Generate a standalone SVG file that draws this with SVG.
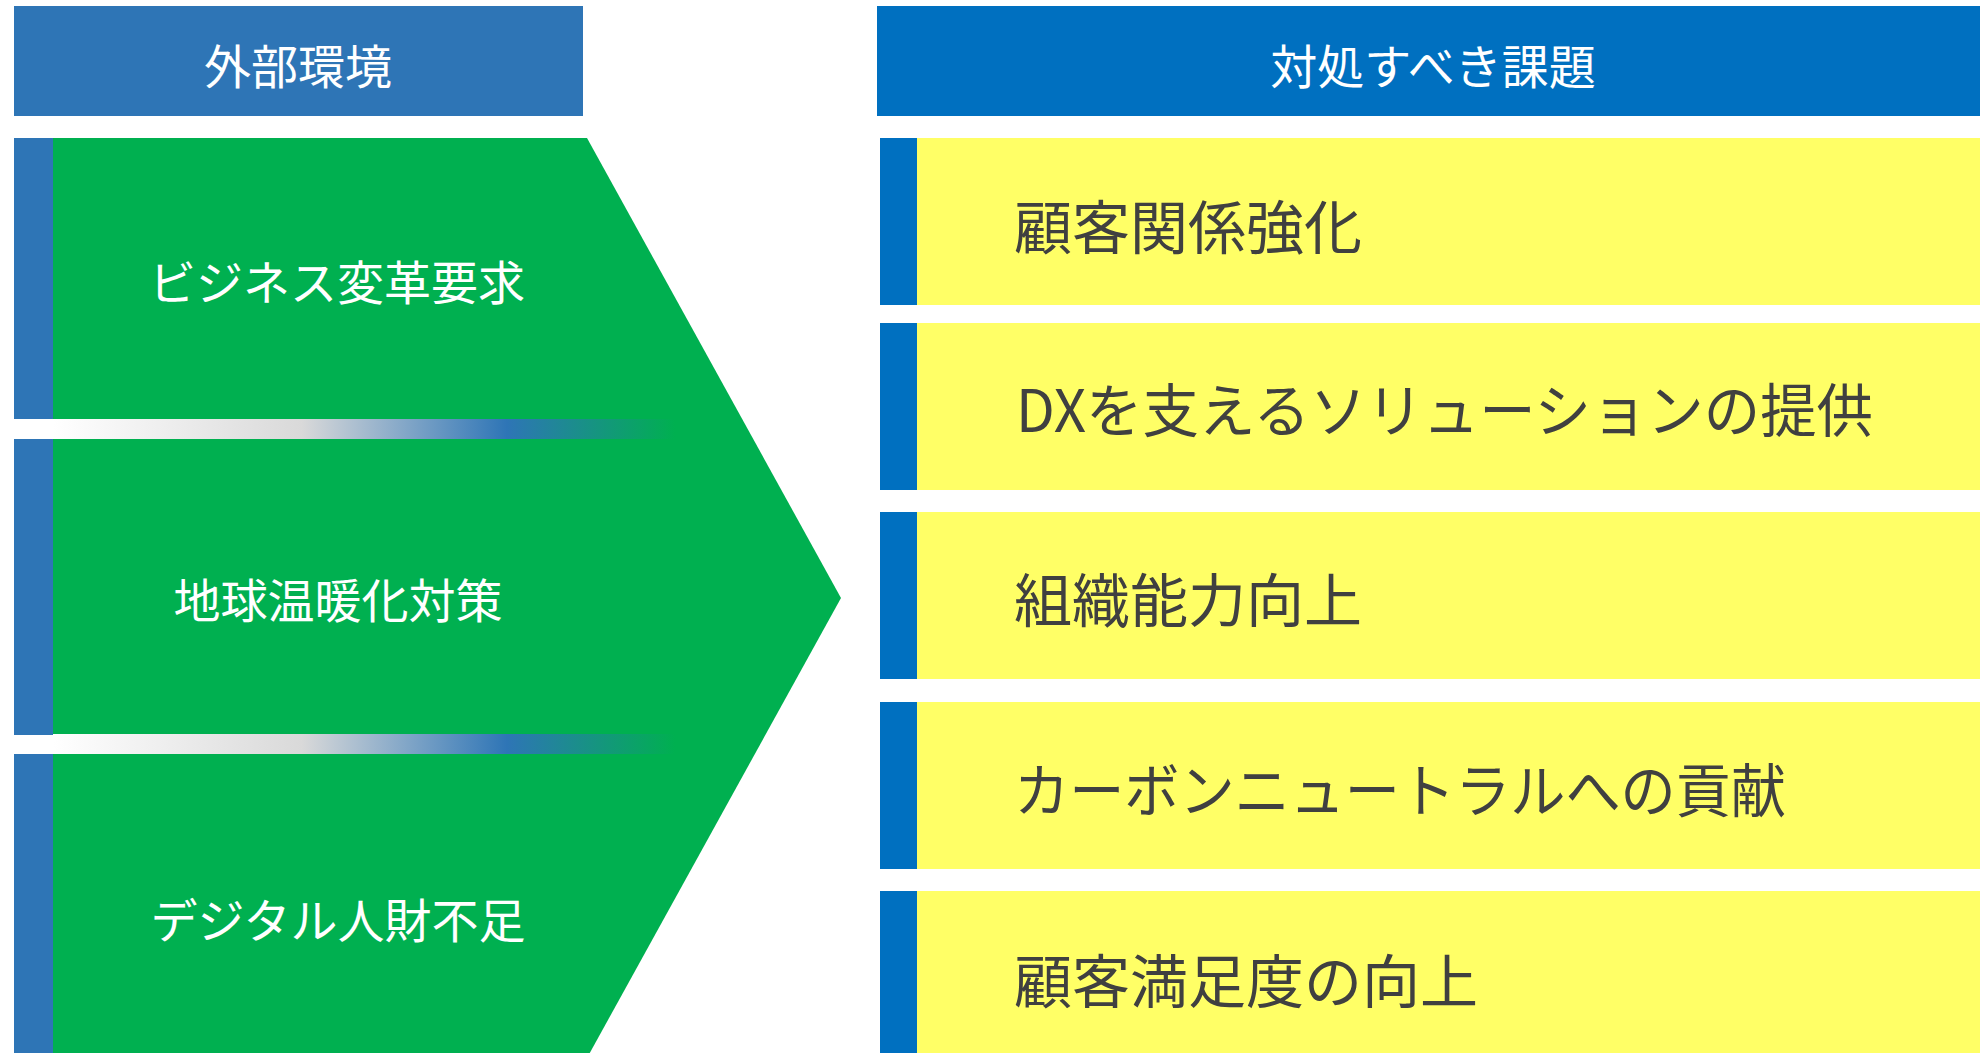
<svg xmlns="http://www.w3.org/2000/svg" width="1980" height="1053" viewBox="0 0 1980 1053">
<defs>
<linearGradient id="strip" x1="53" y1="0" x2="675" y2="0" gradientUnits="userSpaceOnUse">
<stop offset="0" stop-color="#ffffff"/>
<stop offset="0.4" stop-color="#d9d9d9"/>
<stop offset="0.73" stop-color="#2e75b6"/>
<stop offset="1" stop-color="#00b050"/>
</linearGradient>
<style>
.hdrL{fill:#2e75b6}
.hdrR{fill:#0070c0}
.barL{fill:#2e75b6}
.barR{fill:#0070c0}
.yel{fill:#ffff66}
.wt{fill:#ffffff;font-family:"Noto Sans CJK JP","Noto Sans CJK SC",sans-serif;font-size:47px;text-anchor:middle}
.dk{fill:#404040;font-family:"Noto Sans CJK JP","Noto Sans CJK SC",sans-serif;font-size:58px}
</style>
</defs>
<rect width="1980" height="1053" fill="#ffffff"/>

<g id="header-left">
<rect class="hdrL" x="14" y="6" width="569" height="110"/>
<text class="wt" x="298" y="84">外部環境</text>
</g>
<g id="header-right">
<rect class="hdrR" x="877" y="6" width="1103" height="110"/>
<text class="wt" x="1433" y="84">対処すべき課題</text>
</g>

<g id="chevron">
<polygon points="53,138 587,138 841,598 587,1058 53,1058" fill="#00b050"/>
<rect class="barL" x="14" y="138" width="39" height="281"/>
<rect class="barL" x="14" y="439" width="39" height="296"/>
<rect class="barL" x="14" y="754" width="39" height="299"/>
<rect x="53" y="419" width="622" height="20" fill="url(#strip)"/>
<rect x="53" y="734" width="622" height="20" fill="url(#strip)"/>
</g>

<g id="env-1"><text class="wt" x="337" y="300">ビジネス変革要求</text></g>
<g id="env-2"><text class="wt" x="338" y="618">地球温暖化対策</text></g>
<g id="env-3"><text class="wt" x="338" y="938">デジタル人財不足</text></g>

<g id="issue-1">
<rect class="barR" x="880" y="138" width="37" height="167"/>
<rect class="yel" x="917" y="138" width="1063" height="167"/>
<text class="dk" x="1014" y="249">顧客関係強化</text>
</g>
<g id="issue-2">
<rect class="barR" x="880" y="323" width="37" height="167"/>
<rect class="yel" x="917" y="323" width="1063" height="167"/>
<text class="dk" x="1016" y="432" textLength="857" lengthAdjust="spacingAndGlyphs">DXを支えるソリューションの提供</text>
</g>
<g id="issue-3">
<rect class="barR" x="880" y="512" width="37" height="167"/>
<rect class="yel" x="917" y="512" width="1063" height="167"/>
<text class="dk" x="1014" y="622">組織能力向上</text>
</g>
<g id="issue-4">
<rect class="barR" x="880" y="702" width="37" height="167"/>
<rect class="yel" x="917" y="702" width="1063" height="167"/>
<text class="dk" x="1014" y="812" textLength="772" lengthAdjust="spacingAndGlyphs">カーボンニュートラルへの貢献</text>
</g>
<g id="issue-5">
<rect class="barR" x="880" y="891" width="37" height="162"/>
<rect class="yel" x="917" y="891" width="1063" height="162"/>
<text class="dk" x="1014" y="1003">顧客満足度の向上</text>
</g>

<g id="connectors"></g>
</svg>
